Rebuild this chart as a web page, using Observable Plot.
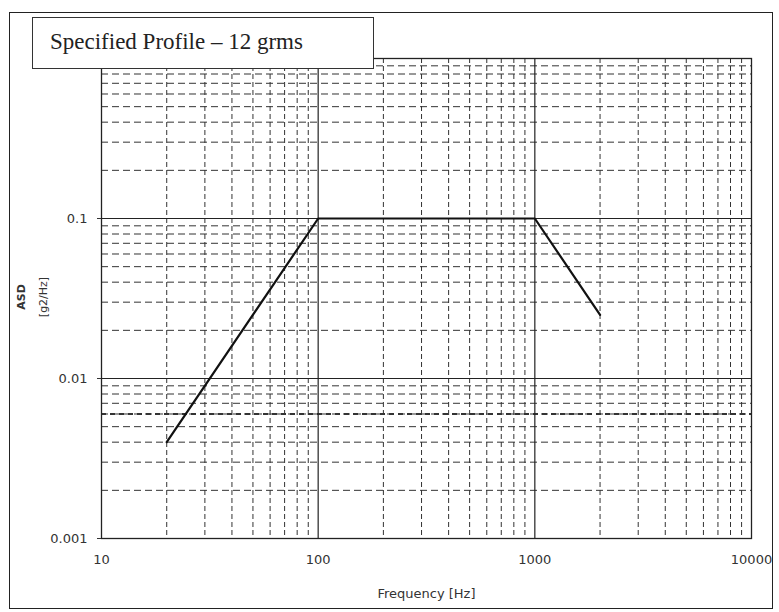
<!DOCTYPE html>
<html>
<head>
<meta charset="utf-8">
<script src="https://cdn.jsdelivr.net/npm/d3@7"></script>
<script src="https://cdn.jsdelivr.net/npm/@observablehq/plot@0.6"></script>
<style>
  html, body { margin: 0; padding: 0; background: #fff; }
  #wrap { position: relative; width: 779px; height: 612px; overflow: hidden; }
  #frame { position: absolute; left: 9px; top: 12px; width: 764px; height: 597px; border: 1.5px solid #222; box-sizing: border-box; pointer-events: none; }
  #title { position: absolute; left: 32px; top: 17px; width: 342px; height: 52px; box-sizing: border-box;
           border: 1.3px solid #333; background: #fff; font-family: "Liberation Serif", "Times New Roman", serif;
           font-size: 23px; color: #222; padding-left: 17px; line-height: 48px; white-space: nowrap; }
  #ylab { position: absolute; left: 14px; top: 297px; width: 0; height: 0; }
  #ylab div { position: absolute; transform: translate(-50%, -50%) rotate(-90deg); font-family: "DejaVu Sans", sans-serif; color: #333; white-space: nowrap; }
  svg { position: absolute; left: 0; top: 0; }
</style>
</head>
<body>
<div id="wrap">
  <div id="chart"></div>
  <div id="frame"></div>
  <div id="title">Specified Profile – 12 grms</div>
</div>
<script>
// Data
const freq = [20, 100, 1000, 2000];
const asd  = [0.004, 0.1, 0.1, 0.025];
const xMajor = [10, 100, 1000, 10000];
const yMajor = [0.001, 0.01, 0.1, 1];
const xTickLabels = ["10", "100", "1000", "10000"];
const yTickValues = [0.001, 0.01, 0.1];
const yTickLabels = ["0.001", "0.01", "0.1"];
const boldMinorY = [0.006];

const xMinor = xMajor.slice(0, -1).flatMap(d => [2,3,4,5,6,7,8,9].map(k => k * d));
const yMinor = yMajor.slice(0, -1).flatMap(d => [2,3,4,5,6,7,8,9].map(k => k * d));
const profile = freq.map((f, i) => ({f, a: asd[i]}));

const chart = Plot.plot({
  width: 779,
  height: 612,
  marginLeft: 101,
  marginRight: 28,
  marginTop: 58,
  marginBottom: 74,
  x: {type: "log", domain: [10, 10000]},
  y: {type: "log", domain: [0.001, 1]},
  style: {fontFamily: "DejaVu Sans, sans-serif", fontSize: "13px", color: "#333", background: "transparent"},
  marks: [
    Plot.ruleX(xMinor, {stroke: "#333", strokeWidth: 1, strokeDasharray: "5,3"}),
    Plot.ruleY(yMinor, {stroke: "#333", strokeWidth: 1, strokeDasharray: "7,4"}),
    Plot.ruleY(boldMinorY, {stroke: "#333", strokeWidth: 1.8, strokeDasharray: "5,4"}),
    Plot.ruleX([100, 1000], {stroke: "#222", strokeWidth: 1.2}),
    Plot.ruleY([0.01, 0.1], {stroke: "#222", strokeWidth: 1.2}),
    Plot.frame({stroke: "#222", strokeWidth: 1.3}),
    Plot.line(profile, {x: "f", y: "a", stroke: "#111", strokeWidth: 2.2}),
    Plot.axisX({ticks: xMajor, tickSize: 0, tickPadding: 16, label: null,
                tickFormat: d => xTickLabels[xMajor.indexOf(d)], fontSize: 13}),
    Plot.axisY({ticks: yTickValues, tickSize: 4, tickPadding: 10, label: null,
                tickFormat: d => yTickLabels[yTickValues.indexOf(d)], fontSize: 13}),
    Plot.text(["Frequency [Hz]"], {frameAnchor: "bottom", dy: 59, fontSize: 13, fill: "#333"})
  ]
});
document.getElementById("chart").appendChild(chart);

// Y axis label (two lines, rotated)
const ylab = document.createElement("div");
ylab.id = "ylab";
ylab.innerHTML = '<div style="left:7px;font-size:11px;font-weight:bold;">ASD</div>' +
                 '<div style="left:29px;font-size:11px;">[g2/Hz]</div>';
document.getElementById("wrap").appendChild(ylab);
</script>
</body>
</html>
